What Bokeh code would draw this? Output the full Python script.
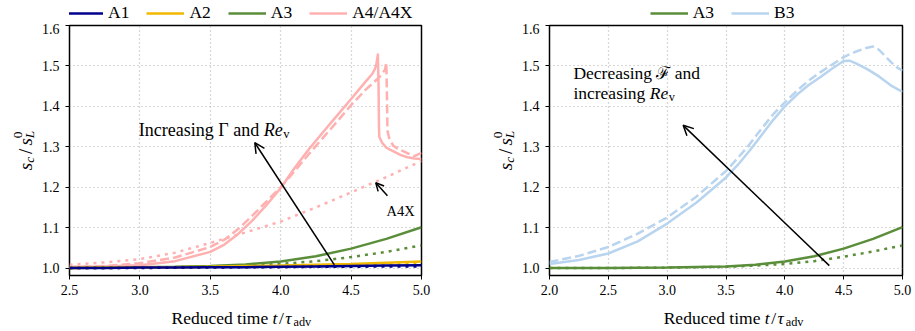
import math
from bokeh.plotting import figure
from bokeh.models import (Range1d, FixedTicker, Label, Arrow, OpenHead, Legend,
                          LegendItem)
from bokeh.layouts import row, column
from bokeh.embed import file_html
from bokeh.resources import INLINE

# ---------------- data ----------------
x_ticks_left = [2.5, 3.0, 3.5, 4.0, 4.5, 5.0]
x_labels_left = ["2.5", "3.0", "3.5", "4.0", "4.5", "5.0"]
x_ticks_right = [2.0, 2.5, 3.0, 3.5, 4.0, 4.5, 5.0]
x_labels_right = ["2.0", "2.5", "3.0", "3.5", "4.0", "4.5", "5.0"]
y_ticks = [1.0, 1.1, 1.2, 1.3, 1.4, 1.5, 1.6]
y_labels = ["1.0", "1.1", "1.2", "1.3", "1.4", "1.5", "1.6"]

t_low = [2.5, 2.75, 3.0, 3.25, 3.5, 3.75, 4.0, 4.25, 4.5, 4.75, 5.0]
a1_solid = [1.000, 1.000, 1.001, 1.001, 1.002, 1.002, 1.003, 1.004, 1.005, 1.006, 1.007]
a1_dot = [1.000, 1.000, 1.000, 1.001, 1.001, 1.002, 1.002, 1.003, 1.003, 1.004, 1.004]
a2_solid = [1.000, 1.001, 1.001, 1.002, 1.003, 1.005, 1.006, 1.008, 1.010, 1.013, 1.016]
a2_dot = [1.000, 1.000, 1.001, 1.002, 1.003, 1.004, 1.005, 1.007, 1.008, 1.010, 1.012]
a3_solid = [1.000, 1.001, 1.002, 1.003, 1.005, 1.009, 1.016, 1.029, 1.048, 1.072, 1.101]
a3_dot = [1.000, 1.000, 1.001, 1.002, 1.004, 1.006, 1.010, 1.017, 1.027, 1.040, 1.056]
a4x_dot = [1.008, 1.014, 1.022, 1.038, 1.062, 1.088, 1.115, 1.150, 1.187, 1.225, 1.265]

t_a4 = [2.5, 2.75, 3.0, 3.25, 3.5, 3.6, 3.7, 3.8, 3.9, 4.0, 4.1, 4.2, 4.3, 4.4,
        4.5, 4.6, 4.65, 4.67, 4.68, 4.69, 4.695, 4.698, 4.70, 4.72, 4.75, 4.78,
        4.85, 4.9, 4.95, 5.0]
a4_solid = [1.003, 1.004, 1.007, 1.017, 1.040, 1.058, 1.085, 1.118, 1.156, 1.198,
            1.248, 1.294, 1.336, 1.377, 1.418, 1.460, 1.480, 1.493, 1.505, 1.528,
            1.450, 1.350, 1.325, 1.310, 1.298, 1.292, 1.280, 1.274, 1.271, 1.270]
t_a4d = [2.5, 2.75, 3.0, 3.25, 3.5, 3.6, 3.7, 3.8, 3.9, 4.0, 4.1, 4.2, 4.3, 4.4,
         4.5, 4.6, 4.7, 4.74, 4.75, 4.755, 4.758, 4.77, 4.8, 4.85, 4.9, 4.95, 5.0]
a4_dash = [1.002, 1.005, 1.012, 1.026, 1.052, 1.070, 1.097, 1.130, 1.165, 1.200,
           1.240, 1.282, 1.322, 1.362, 1.403, 1.440, 1.472, 1.490, 1.508, 1.420,
           1.340, 1.322, 1.302, 1.292, 1.284, 1.277, 1.285]

t_r = [2.0, 2.5, 3.0, 3.5, 3.75, 4.0, 4.25, 4.5, 4.75, 5.0]
a3r_solid = [1.000, 1.000, 1.001, 1.004, 1.008, 1.016, 1.029, 1.048, 1.072, 1.101]
a3r_dot = [1.000, 1.000, 1.001, 1.003, 1.006, 1.010, 1.017, 1.028, 1.041, 1.056]

t_b3 = [2.0, 2.25, 2.5, 2.75, 3.0, 3.25, 3.5, 3.6, 3.7, 3.8, 3.9, 4.0, 4.1, 4.2,
        4.3, 4.4, 4.5, 4.55, 4.6, 4.7, 4.8, 4.9, 5.0]
b3_solid = [1.010, 1.020, 1.036, 1.066, 1.110, 1.162, 1.224, 1.255, 1.290, 1.328,
            1.366, 1.400, 1.428, 1.452, 1.472, 1.493, 1.512, 1.513, 1.507, 1.492,
            1.474, 1.452, 1.436]
t_b3d = [2.0, 2.25, 2.5, 2.75, 3.0, 3.25, 3.5, 3.6, 3.7, 3.8, 3.9, 4.0, 4.1, 4.2,
         4.3, 4.4, 4.5, 4.6, 4.7, 4.75, 4.8, 4.85, 4.9, 4.95, 5.0]
b3_dash = [1.015, 1.030, 1.052, 1.085, 1.125, 1.177, 1.240, 1.272, 1.306, 1.344,
           1.380, 1.410, 1.438, 1.463, 1.484, 1.503, 1.522, 1.535, 1.545, 1.548,
           1.540, 1.525, 1.510, 1.497, 1.488]

legend_left = ["A1", "A2", "A3", "A4/A4X"]
legend_right = ["A3", "B3"]

# ---------------- styling ----------------
FONT = "Liberation Serif"
C_A1 = "#00008b"
C_A2 = "#f0b800"
C_A3 = "#5b8e3a"
C_A4 = "#ffb0b0"
C_B3 = "#b8d4ee"
LW = 2.5
DASH = "9 4"
DOT = "3 5"

Y0, Y1 = 0.9815, 1.6
H = 331
LEG_H = 23
MAIN_H = 278
XLAB_H = H - LEG_H - MAIN_H
LEG_SHIFT = 33   # measured internal offset of the horizontal legend

REG = {' ': 250, 'a': 444, 'b': 500, 'c': 444, 'd': 500, 'e': 444, 'f': 333,
       'g': 500, 'h': 500, 'i': 278, 'j': 278, 'k': 500, 'l': 278, 'm': 778,
       'n': 500, 'o': 500, 'p': 500, 'q': 500, 'r': 333, 's': 389, 't': 278,
       'u': 500, 'v': 500, 'w': 722, 'x': 500, 'y': 500, 'z': 444, 'A': 722,
       'D': 722, 'I': 333, 'R': 667, 'X': 722, 'Γ': 578, '/': 278, '.': 250,
       '0': 500, 'τ': 440}
ITA = {'R': 611, 'e': 444, 't': 278, 's': 389, 'c': 444, 'L': 556, 'v': 444,
       'τ': 440, '/': 278}


def tw(s, size, italic=False):
    tab = ITA if italic else REG
    return sum(tab.get(ch, REG.get(ch, 500)) for ch in s) * size / 1000.0


def rich(p, x, y, segs, angle=0.0, align="left"):
    """segs: (text, size, dy, italic, advance, pad_after)"""
    total = sum(tw(s, sz, it) + pad for s, sz, dy, it, adv, pad in segs if adv)
    cur = 0.0 if align == "left" else -total / 2.0
    for s, sz, dy, it, adv, pad in segs:
        if angle == 0:
            xo, yo = cur, dy
        else:
            xo, yo = -dy, cur
        p.add_layout(Label(x=x, y=y, x_offset=xo, y_offset=yo, text=s, angle=angle,
                           text_font=FONT, text_font_size=f"{sz}px",
                           text_font_style="italic" if it else "normal",
                           text_baseline="alphabetic", text_align="left",
                           text_color="black"))
        if adv:
            cur += tw(s, sz, it) + pad


def blank_fig(w, h):
    p = figure(width=w, height=h, output_backend="svg", toolbar_location=None,
               x_range=Range1d(0, w), y_range=Range1d(0, h),
               x_axis_location=None, y_axis_location=None, min_border=0)
    p.grid.visible = False
    p.outline_line_color = None
    p.background_fill_color = "white"
    p.border_fill_color = "white"
    return p


def ylabel_fig(w, xbase):
    p = blank_fig(w, H)
    rich(p, xbase, H - 150, [
        ("s", 19, 0, True, True, 0),
        ("c", 13.3, -4, True, True, 3),
        ("/", 19, 0, False, True, 3),
        ("s", 19, 0, True, True, 0),
        ("0", 13.3, 8, False, False, 0),
        ("L", 13.3, -4, True, True, 0),
    ], angle=math.pi / 2, align="center")
    return p


def xlabel_fig(w, xcenter):
    p = blank_fig(w, XLAB_H)
    yb = XLAB_H - 16.5
    rich(p, xcenter, yb, [
        ("Reduced time ", 17.5, 0, False, True, 0),
        ("t", 17.5, 0, True, True, 1.5),
        ("/", 17.5, 0, False, True, 1.5),
        ("τ", 17.5, 0, True, True, 0.5),
        ("adv", 12.25, -4, False, True, 0),
    ], align="center")
    return p


def legend_fig(w, names, colors, glyph_x):
    p = blank_fig(w, LEG_H)
    items = []
    for n, c in zip(names, colors):
        # off-canvas proxy line: only its style is used, by the legend sample
        r = p.line([-20, -10], [-20, -20], line_color=c, line_width=LW)
        items.append(LegendItem(label=n, renderers=[r]))
    leg = Legend(items=items, orientation="horizontal",
                 location=(glyph_x - LEG_SHIFT, 0),
                 label_text_font=FONT, label_text_font_size="17.5px",
                 label_text_color="black", glyph_width=38, glyph_height=16,
                 label_height=16, label_standoff=5, spacing=17, padding=0,
                 margin=0, border_line_alpha=0, background_fill_alpha=0)
    p.add_layout(leg)
    return p


def make_fig(width, left_border, x0, x1, xt, xl):
    p = figure(width=width, height=MAIN_H, output_backend="svg", toolbar_location=None,
               x_range=Range1d(x0, x1), y_range=Range1d(Y0, Y1),
               min_border_left=left_border, min_border_right=width - left_border - 354,
               min_border_top=2, min_border_bottom=MAIN_H - 2 - 250)
    p.background_fill_color = "white"
    p.border_fill_color = "white"
    p.outline_line_color = "black"
    p.outline_line_width = 1.5
    for ax in (p.xaxis[0], p.yaxis[0]):
        ax.axis_line_color = None
        ax.major_tick_in = 0
        ax.major_tick_out = 4
        ax.major_tick_line_color = "black"
        ax.major_tick_line_width = 1
        ax.minor_tick_line_color = None
        ax.major_label_text_font = FONT
        ax.major_label_text_font_size = "14px"
        ax.major_label_text_color = "black"
    p.xaxis.major_label_standoff = 5
    p.yaxis.major_label_standoff = 6
    p.xaxis.ticker = FixedTicker(ticks=xt)
    p.xaxis.major_label_overrides = {t: l for t, l in zip(xt, xl)}
    p.yaxis.ticker = FixedTicker(ticks=y_ticks)
    p.yaxis.major_label_overrides = {t: l for t, l in zip(y_ticks, y_labels)}
    for g in (p.xgrid[0], p.ygrid[0]):
        g.grid_line_color = "#b0b0b0"
        g.grid_line_dash = "1 3"
        g.grid_line_width = 1.2
    return p


# layout widths: [ylab1 38][main1 422][ylab2 58][main2 397] = 915
YL1_W, M1_W, M1_LB = 38, 422, 29
YL2_W, M2_W, M2_LB = 58, 397, 30

# ---------------- left panel ----------------
p1 = make_fig(M1_W, M1_LB, 2.5, 5.0, x_ticks_left, x_labels_left)

p1.line(t_a4, a4_solid, line_color=C_A4, line_width=LW, line_join="round")
p1.line(t_a4d, a4_dash, line_color=C_A4, line_width=LW, line_dash=DASH, line_join="round")
p1.line(t_low, a4x_dot, line_color=C_A4, line_width=LW, line_dash=DOT)
p1.line(t_low, a3_solid, line_color=C_A3, line_width=LW)
p1.line(t_low, a3_dot, line_color=C_A3, line_width=LW, line_dash=DOT)
p1.line(t_low, a2_solid, line_color=C_A2, line_width=LW)
p1.line(t_low, a2_dot, line_color=C_A2, line_width=LW, line_dash=DOT)
p1.line(t_low, a1_solid, line_color=C_A1, line_width=LW)
p1.line(t_low, a1_dot, line_color=C_A1, line_width=LW, line_dash=DOT)

p1.add_layout(Arrow(x_start=4.381, y_start=1.008, x_end=3.816, y_end=1.310,
                    line_color="black", line_width=1.5,
                    end=OpenHead(size=10, line_width=1.5, line_color="black")))
p1.add_layout(Arrow(x_start=4.758, y_start=1.179, x_end=4.675, y_end=1.211,
                    line_color="black", line_width=1.5,
                    end=OpenHead(size=8, line_width=1.5, line_color="black")))

rich(p1, 2.992, 1.3415, [
    ("Increasing Γ and ", 18, 0, False, True, 0),
    ("Re", 18, 0, True, True, 0.5),
    ("v", 12.6, -4, False, True, 0),
])
p1.add_layout(Label(x=4.852, y=1.14, text="A4X", text_font=FONT,
                    text_font_size="14.5px", text_align="center",
                    text_baseline="alphabetic", text_color="black"))

# ---------------- right panel ----------------
p2 = make_fig(M2_W, M2_LB, 2.0, 5.0, x_ticks_right, x_labels_right)

p2.line(t_b3, b3_solid, line_color=C_B3, line_width=LW, line_join="round")
p2.line(t_b3d, b3_dash, line_color=C_B3, line_width=LW, line_dash=DASH, line_join="round")
p2.line(t_r, a3r_solid, line_color=C_A3, line_width=LW)
p2.line(t_r, a3r_dot, line_color=C_A3, line_width=LW, line_dash=DOT)

p2.add_layout(Arrow(x_start=4.378, y_start=1.006, x_end=3.136, y_end=1.353,
                    line_color="black", line_width=1.5,
                    end=OpenHead(size=10, line_width=1.5, line_color="black")))

p2.add_layout(Label(x=2.203, y=1.4826, text="Decreasing ℱ and", text_font=FONT,
                    text_font_size="17.5px", text_align="left",
                    text_baseline="alphabetic", text_color="black"))
rich(p2, 2.203, 1.433, [
    ("increasing ", 17.5, 0, False, True, 0),
    ("Re", 17.5, 0, True, True, 0.5),
    ("v", 12.25, -4, False, True, 0),
])

# ---------------- strips: legends and axis labels ----------------
lg1 = legend_fig(M1_W, legend_left, [C_A1, C_A2, C_A3, C_A4], M1_LB)
lg2 = legend_fig(M2_W, legend_right, [C_A3, C_B3], 651.7 - (M1_W + YL1_W + YL2_W))
yl1 = ylabel_fig(YL1_W, 25)
yl2 = ylabel_fig(YL2_W, 45)
xl1 = xlabel_fig(M1_W, M1_LB + 177)
xl2 = xlabel_fig(M2_W, M2_LB + 177)

layout = row(yl1, column(lg1, p1, xl1), yl2, column(lg2, p2, xl2))
open("out.html", "w").write(file_html(layout, INLINE))
